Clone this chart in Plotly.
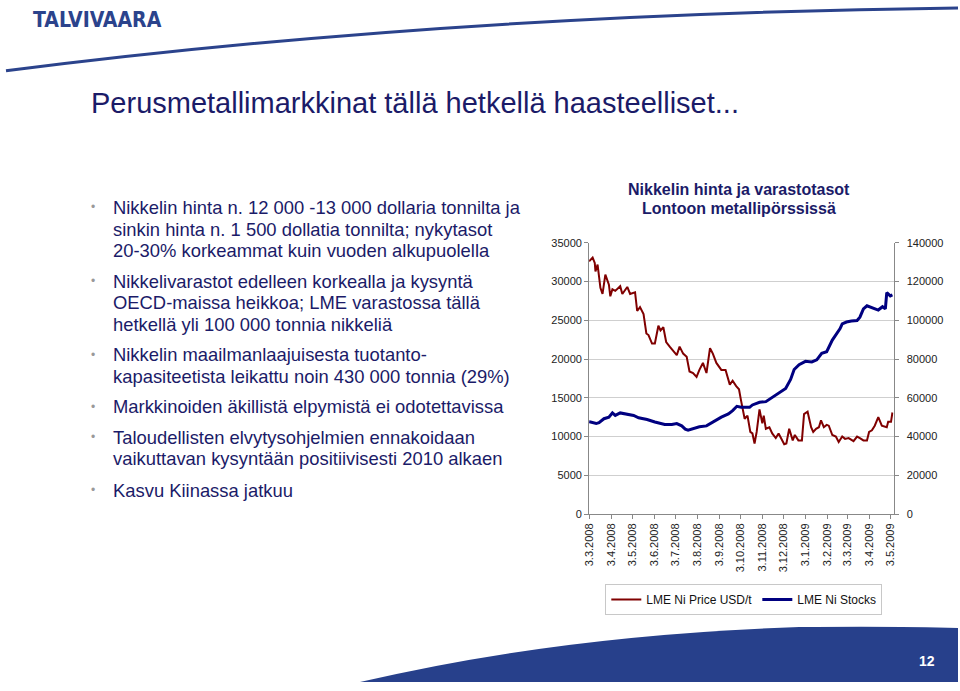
import plotly.graph_objects as go

# --- data --------------------------------------------------------------------
price_dates = [
    "2008-03-03", "2008-03-05", "2008-03-08", "2008-03-11", "2008-03-12", "2008-03-15",
    "2008-03-19", "2008-03-22", "2008-03-26", "2008-03-31", "2008-04-02", "2008-04-05",
    "2008-04-09", "2008-04-16", "2008-04-19", "2008-04-26", "2008-04-30", "2008-05-07",
    "2008-05-10", "2008-05-14", "2008-05-19", "2008-05-23", "2008-05-26", "2008-05-31",
    "2008-06-04", "2008-06-09", "2008-06-12", "2008-06-16", "2008-06-20", "2008-06-25",
    "2008-07-05", "2008-07-09", "2008-07-14", "2008-07-19", "2008-07-23", "2008-07-28",
    "2008-08-02", "2008-08-06", "2008-08-11", "2008-08-16", "2008-08-21", "2008-08-25",
    "2008-08-30", "2008-09-06", "2008-09-12", "2008-09-18", "2008-09-22", "2008-09-27",
    "2008-10-01", "2008-10-04", "2008-10-09", "2008-10-13", "2008-10-17", "2008-10-20",
    "2008-10-23", "2008-10-26", "2008-10-30", "2008-11-03", "2008-11-05", "2008-11-08",
    "2008-11-13", "2008-11-17", "2008-11-22", "2008-11-26", "2008-11-29", "2008-12-04",
    "2008-12-07", "2008-12-11", "2008-12-16", "2008-12-19", "2008-12-24", "2008-12-29",
    "2009-01-01", "2009-01-06", "2009-01-11", "2009-01-14", "2009-01-18", "2009-01-22",
    "2009-01-25", "2009-01-29", "2009-02-02", "2009-02-05", "2009-02-10", "2009-02-15",
    "2009-02-19", "2009-02-24", "2009-02-28", "2009-03-05", "2009-03-12", "2009-03-17",
    "2009-03-21", "2009-03-26", "2009-03-31", "2009-04-03", "2009-04-07", "2009-04-11",
    "2009-04-16", "2009-04-21", "2009-04-28", "2009-04-30", "2009-05-04", "2009-05-06",
]
price_usd = [
    32600, 32800, 33100, 32400, 31300, 32200,
    29200, 28400, 30900, 29600, 28100, 29000,
    28800, 29400, 28400, 29300, 28400, 28600,
    26200, 26700, 25800, 23300, 23100, 22000,
    22000, 24300, 23700, 24100, 22200, 21600,
    20500, 21600, 20700, 20300, 18400, 18200,
    17700, 18600, 19500, 18200, 21400, 20700,
    19500, 18600, 18600, 16700, 17200, 16500,
    16100, 14600, 12300, 12700, 10600, 10400,
    9100, 10600, 13500, 11700, 12700, 11000,
    11200, 10400, 9800, 10400, 9800, 9000,
    9100, 11000, 9500, 10200, 9500, 9500,
    12900, 13200, 11200, 10600, 11000, 11200,
    12100, 11200, 11500, 11400, 10200, 10000,
    9300, 10000, 9700, 9800, 9400, 10000,
    9800, 9500, 9500, 10600, 10800, 11400,
    12500, 11400, 11200, 11900, 11900, 13100,
]

stock_dates = [
    "2008-03-03", "2008-03-05", "2008-03-13", "2008-03-17", "2008-03-24", "2008-03-31",
    "2008-04-05", "2008-04-09", "2008-04-16", "2008-04-26", "2008-05-05", "2008-05-12",
    "2008-05-24", "2008-06-04", "2008-06-18", "2008-06-28", "2008-07-05", "2008-07-12",
    "2008-07-17", "2008-07-21", "2008-07-28", "2008-08-06", "2008-08-16", "2008-08-25",
    "2008-09-06", "2008-09-16", "2008-09-22", "2008-09-28", "2008-10-04", "2008-10-11",
    "2008-10-16", "2008-10-20", "2008-10-30", "2008-11-08", "2008-11-17", "2008-11-27",
    "2008-12-06", "2008-12-13", "2008-12-18", "2008-12-25", "2009-01-03", "2009-01-12",
    "2009-01-19", "2009-01-26", "2009-02-02", "2009-02-10", "2009-02-16", "2009-02-21",
    "2009-02-24", "2009-03-02", "2009-03-09", "2009-03-17", "2009-03-21", "2009-03-26",
    "2009-03-31", "2009-04-07", "2009-04-16", "2009-04-22", "2009-04-26", "2009-04-28",
    "2009-05-03", "2009-05-06",
]
stocks_t = [
    47600, 47500, 46700, 47200, 49200, 50000,
    52200, 50900, 52200, 51700, 50900, 49700,
    48800, 47500, 46200, 46200, 46700, 45500,
    43800, 43300, 44100, 45000, 45500, 47500,
    50000, 51700, 53400, 55600, 55100, 55100,
    55100, 56300, 57700, 58000, 60200, 62400,
    64800, 69500, 74600, 77100, 78800, 78500,
    79600, 83000, 83800, 89800, 93200, 95700,
    98200, 99100, 99600, 99900, 101600, 105900,
    107500, 106700, 105300, 107000, 105900, 114300,
    112600, 113100,
]

tick_labels = ["3.3.2008", "3.4.2008", "3.5.2008", "3.6.2008", "3.7.2008", "3.8.2008",
               "3.9.2008", "3.10.2008", "3.11.2008", "3.12.2008", "3.1.2009", "3.2.2009",
               "3.3.2009", "3.4.2009", "3.5.2009"]
tick_dates = ["%s-%02d-%02d" % (l.split(".")[2], int(l.split(".")[1]), int(l.split(".")[0]))
              for l in tick_labels]

bullets = [
    ["Nikkelin hinta n. 12 000 -13 000 dollaria tonnilta ja",
     "sinkin hinta n. 1 500 dollatia tonnilta; nykytasot",
     "20-30% korkeammat kuin vuoden alkupuolella"],
    ["Nikkelivarastot edelleen korkealla ja kysyntä",
     "OECD-maissa heikkoa; LME varastossa tällä",
     "hetkellä yli 100 000 tonnia nikkeliä"],
    ["Nikkelin maailmanlaajuisesta tuotanto-",
     "kapasiteetista leikattu noin 430 000 tonnia (29%)"],
    ["Markkinoiden äkillistä elpymistä ei odotettavissa"],
    ["Taloudellisten elvytysohjelmien ennakoidaan",
     "vaikuttavan kysyntään positiivisesti 2010 alkaen"],
    ["Kasvu Kiinassa jatkuu"],
]
bullet_tops = [205, 280, 355, 408, 439, 493]

W, H = 960, 691
FONT = "Arial, Liberation Sans, sans-serif"
NAVY = "#1b1b68"
BRAND = "#2b438c"


def px(x, y):
    return x / W, 1 - y / H


fig = go.Figure()
fig.add_trace(go.Scatter(x=price_dates, y=price_usd, mode="lines", name="LME Ni Price USD/t",
                         line=dict(color="#800000", width=2)))
fig.add_trace(go.Scatter(x=stock_dates, y=stocks_t, mode="lines", name="LME Ni Stocks",
                         line=dict(color="#000080", width=3), yaxis="y2"))

axis_font = dict(family=FONT, size=11, color="#222")
fig.update_layout(
    width=W, height=H, margin=dict(l=0, r=0, t=0, b=0),
    paper_bgcolor="white", plot_bgcolor="white",
    showlegend=True,
    legend=dict(orientation="h", x=744 / W, y=1 - 604 / H, xanchor="center", yanchor="middle",
                bordercolor="#c8c8c8", borderwidth=1, font=dict(family=FONT, size=12, color="#111"),
                itemwidth=30, tracegroupgap=0),
    xaxis=dict(domain=[588 / W, 895 / W], type="date",
               range=["2008-03-03", "2009-05-07 14:00"],
               tickvals=tick_dates, ticktext=tick_labels, tickangle=-90,
               tickfont=axis_font, ticks="outside", ticklen=4, tickcolor="#888",
               showgrid=False, showline=True, linecolor="#888", zeroline=False),
    yaxis=dict(domain=[1 - 517 / H, 1 - 241 / H], range=[0, 35000], dtick=5000,
               tickfont=axis_font, ticks="outside", ticklen=4, tickcolor="#888",
               showgrid=True, gridcolor="#cfcfcf", showline=True, linecolor="#888",
               zeroline=False, tickformat="d"),
    yaxis2=dict(overlaying="y", side="right", anchor="x", range=[0, 140000], dtick=20000,
                tickfont=axis_font, ticks="outside", ticklen=4, tickcolor="#888",
                showgrid=False, showline=True, linecolor="#888", zeroline=False,
                tickformat="d", ticklabelstandoff=6),
)

# slide decoration: header swoosh and footer band
x0, y0 = px(0, 66)
cx, cy = px(450, 8)
x1, y1 = px(960, 2)
fig.add_shape(type="path", xref="paper", yref="paper",
              path=f"M {x0} {y0} Q {cx} {cy} {x1} {y1}",
              line=dict(color=BRAND, width=3))
a = px(357, 688); b = px(560, 640); c = px(800, 632); d = px(900, 631)
e = px(960, 633); f = px(960, 688)
fig.add_shape(type="path", xref="paper", yref="paper",
              path=(f"M {a[0]} {a[1]} Q {b[0]} {b[1]} {c[0]} {c[1]} "
                    f"Q {d[0]} {d[1]} {e[0]} {e[1]} L {f[0]} {f[1]} Z"),
              fillcolor="#27408b", line=dict(width=0), layer="below")


def text(x, y, s, size, color=NAVY, anchor="left", bold=False, family=FONT):
    X, Y = px(x, y)
    fig.add_annotation(x=X, y=Y, xref="paper", yref="paper", text=f"<b>{s}</b>" if bold else s,
                       showarrow=False, xanchor=anchor, yanchor="middle",
                       font=dict(family=family, size=size, color=color))


text(25, 14, "TALVIVAARA", 21, color=BRAND, bold=True,
     family="Liberation Sans Narrow, Arial Narrow, DejaVu Sans Condensed, sans-serif")
text(84, 99, "Perusmetallimarkkinat tällä hetkellä haasteelliset...", 29)

for lines, top in zip(bullets, bullet_tops):
    text(84, top, "•", 12, color="#999")
    for i, ln in enumerate(lines):
        text(106, top + i * 22, ln, 18.4)

text(739, 187, "Nikkelin hinta ja varastotasot", 16, bold=True, anchor="center")
text(739, 206, "Lontoon metallipörssissä", 16, bold=True, anchor="center")
text(929, 667, "12", 14, color="white", bold=True, anchor="center")

fig.write_html("out.html", config={"displayModeBar": False},
               post_script="document.body.style.margin='0';")
